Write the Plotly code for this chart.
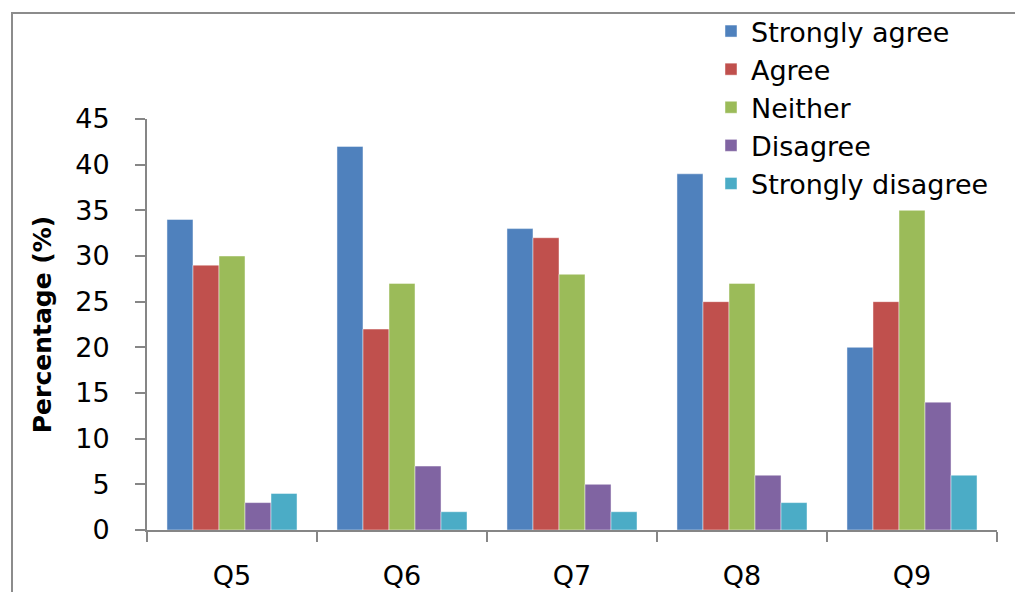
import plotly.graph_objects as go

questions = ["Q5", "Q6", "Q7", "Q8", "Q9"]
responses = ["Strongly agree", "Agree", "Neither", "Disagree", "Strongly disagree"]
strongly_agree = [34, 42, 33, 39, 20]
agree = [29, 22, 32, 25, 25]
neither = [30, 27, 28, 27, 35]
disagree = [3, 7, 5, 6, 14]
strongly_disagree = [4, 2, 2, 3, 6]
y_ticks = [0, 5, 10, 15, 20, 25, 30, 35, 40, 45]

series = [strongly_agree, agree, neither, disagree, strongly_disagree]
colors = ["#4F81BD", "#C0504D", "#9BBB59", "#8064A2", "#4BACC6"]

FONT = "DejaVu Sans"
AXIS_GREY = "#868686"

fig = go.Figure()
for name, vals, col in zip(responses, series, colors):
    fig.add_trace(go.Bar(
        x=questions, y=vals, name=name,
        marker=dict(color=col, line=dict(color="rgba(255,255,255,0.45)", width=1)),
    ))

W, H = 1015, 592
ml, mr, mt, mb = 147, 18, 119, 62
pw, ph = W - ml - mr, H - mt - mb
base = mt + ph  # pixel row of the x axis


def px_x(p):
    return (p - ml) / pw


def px_y(p):
    return (base - p) / ph


# outer chart frame (left and top edges visible, rest runs off the canvas)
fig.add_shape(type="rect", xref="paper", yref="paper",
              x0=px_x(12), x1=px_x(1040), y0=px_y(620), y1=px_y(13),
              line=dict(color="#8C8C8C", width=2), layer="below")

fig.update_layout(
    width=W, height=H,
    margin=dict(l=ml, r=mr, t=mt, b=mb, autoexpand=False),
    paper_bgcolor="white", plot_bgcolor="white",
    barmode="group", bargap=0.235, bargroupgap=0,
    font=dict(family=FONT, size=27, color="black"),
    legend=dict(xref="container", yref="container",
                x=711 / W, y=1 - 7 / H,
                xanchor="left", yanchor="top",
                font=dict(family=FONT, size=27),
                bgcolor="rgba(0,0,0,0)"),
    xaxis=dict(showline=True, linecolor=AXIS_GREY, linewidth=2,
               ticks="outside", tickson="boundaries", ticklen=10,
               tickcolor=AXIS_GREY, tickwidth=2,
               ticklabelstandoff=21, automargin=False,
               tickfont=dict(family=FONT, size=27), showgrid=False),
    yaxis=dict(range=[0, 45], tickvals=y_ticks, showline=True,
               linecolor=AXIS_GREY, linewidth=2, ticks="outside",
               ticklen=10, tickcolor=AXIS_GREY, tickwidth=2,
               ticklabelstandoff=20, showgrid=False, zeroline=False,
               automargin=False,
               tickfont=dict(family=FONT, size=27),
               title=dict(text="<b>Percentage (%)</b>", standoff=16,
                          font=dict(family=FONT, size=25))),
)

fig.write_html("out.html")
